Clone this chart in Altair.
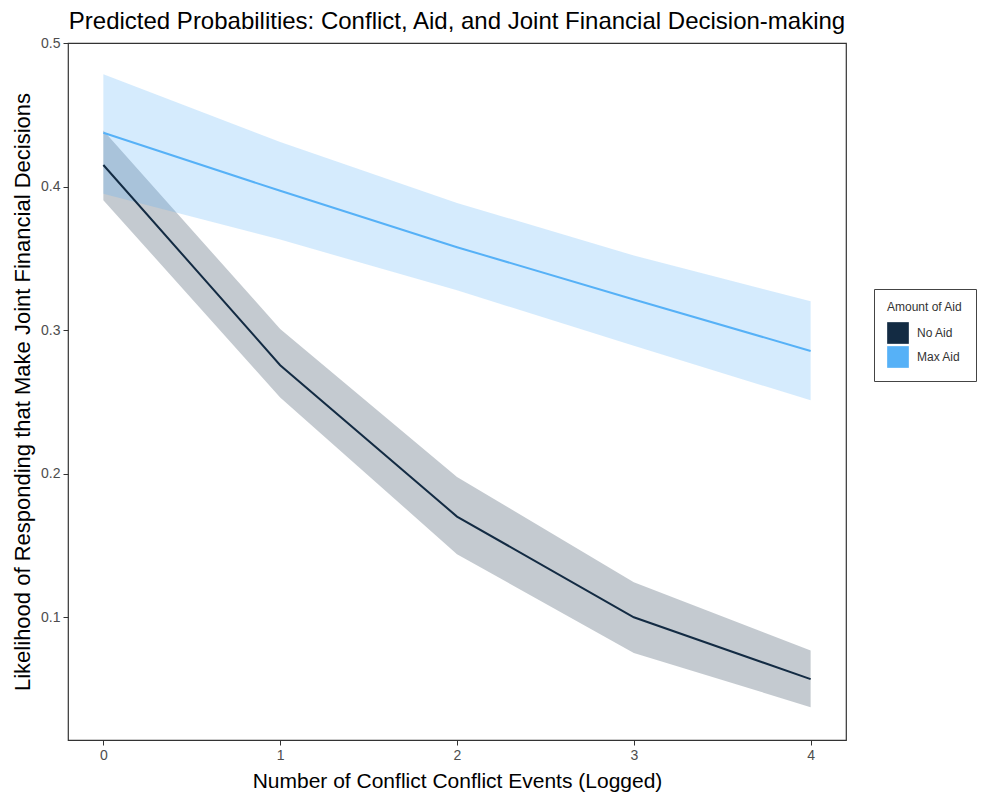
import altair as alt
import pandas as pd

x_vals = [0, 1, 2, 3, 4]

no_aid_fit = [0.415, 0.2755, 0.170, 0.0998, 0.0567]
no_aid_lower = [0.3905, 0.2530, 0.1438, 0.0750, 0.0372]
no_aid_upper = [0.4390, 0.3007, 0.1976, 0.1243, 0.0766]

max_aid_fit = [0.4375, 0.3970, 0.3577, 0.3213, 0.2854]
max_aid_lower = [0.3950, 0.3630, 0.3277, 0.2890, 0.2510]
max_aid_upper = [0.4782, 0.4310, 0.3885, 0.3520, 0.3200]

groups = ["No Aid", "Max Aid"]
group_colors = ["#132B43", "#56B1F7"]

rows = []
for g, fit, lo, hi in [("No Aid", no_aid_fit, no_aid_lower, no_aid_upper),
                       ("Max Aid", max_aid_fit, max_aid_lower, max_aid_upper)]:
    for xv, f, l, h in zip(x_vals, fit, lo, hi):
        rows.append({"x": xv, "group": g, "fit": f, "lower": l, "upper": h})
df = pd.DataFrame(rows)

FONT = "Liberation Sans"

xscale = alt.Scale(domain=[-0.2, 4.2], nice=False, zero=False)
yscale = alt.Scale(domain=[0.0143, 0.5], nice=False, zero=False)
cscale = alt.Scale(domain=groups, range=group_colors)

xaxis = alt.Axis(values=[0, 1, 2, 3, 4], format="d", grid=False, domain=False,
                 tickColor="#333333", tickSize=5, labelPadding=3,
                 labelFontSize=14, labelColor="#4D4D4D", labelFont=FONT,
                 title="Number of Conflict Conflict Events (Logged)",
                 titleFontSize=21, titleFont=FONT, titleFontWeight="normal",
                 titleColor="#000000", titlePadding=8)
yaxis = alt.Axis(values=[0.1, 0.2, 0.3, 0.4, 0.5], format=".1f", grid=False, domain=False,
                 tickColor="#333333", tickSize=5, labelPadding=3,
                 labelFontSize=14, labelColor="#4D4D4D", labelFont=FONT,
                 title="Likelihood of Responding that Make Joint Financial Decisions",
                 titleFontSize=22, titleFont=FONT, titleFontWeight="normal",
                 titleColor="#000000", titlePadding=6)

base = alt.Chart(df)

ribbons = base.mark_area(opacity=0.25).encode(
    x=alt.X("x:Q", scale=xscale, axis=xaxis),
    y=alt.Y("lower:Q", scale=yscale, axis=yaxis),
    y2="upper:Q",
    color=alt.Color("group:N", scale=cscale,
                    legend=alt.Legend(title="Amount of Aid", orient="none",
                                      legendX=806, legendY=246,
                                      symbolType="square", symbolSize=470,
                                      symbolOpacity=1, symbolStrokeWidth=0,
                                      labelFontSize=12, labelFont=FONT, labelColor="#333333",
                                      titleFontSize=12, titleFont=FONT, titleFontWeight="normal",
                                      titleColor="#333333", titlePadding=8,
                                      labelOffset=8, rowPadding=2,
                                      padding=13, strokeColor="#444444",
                                      fillColor="white")),
    detail="group:N",
)

lines = base.mark_line(strokeWidth=2).encode(
    x=alt.X("x:Q", scale=xscale),
    y=alt.Y("fit:Q", scale=yscale),
    color=alt.Color("group:N", scale=cscale, legend=None),
)

chart = alt.layer(ribbons, lines).properties(
    width=778, height=697,
    background="white",
    title=alt.TitleParams("Predicted Probabilities: Conflict, Aid, and Joint Financial Decision-making",
                          fontSize=24, font=FONT, fontWeight="normal", color="#000000",
                          anchor="middle", offset=2),
    autosize=alt.AutoSizeParams(type="none"),
    padding={"left": 60, "top": 35, "right": 150, "bottom": 53},
).configure_view(stroke="#333333", strokeWidth=1.2)

chart.save("out.html", embed_options={"renderer": "svg", "actions": False})
